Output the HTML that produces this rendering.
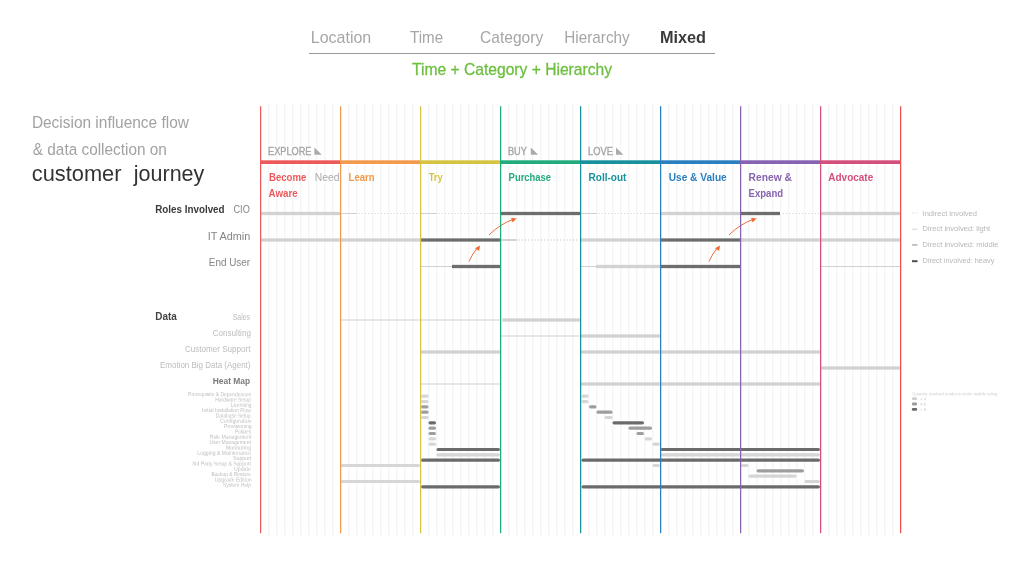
<!DOCTYPE html><html><head><meta charset="utf-8"><title>Customer journey</title><style>html,body{margin:0;padding:0;background:#fff;overflow:hidden}svg{display:block;will-change:transform;}text{font-family:"Liberation Sans", "DejaVu Sans", sans-serif;}</style></head><body>
<svg width="1024" height="576" viewBox="0 0 1024 576">
<rect width="1024" height="576" fill="#fff"/>
<rect x="268.1" y="104" width="1.3" height="431.3" fill="#f4f4f4"/><rect x="276.1" y="104" width="1.3" height="431.3" fill="#f4f4f4"/><rect x="284.1" y="104" width="1.3" height="431.3" fill="#f4f4f4"/><rect x="292.1" y="104" width="1.3" height="431.3" fill="#f4f4f4"/><rect x="300.1" y="104" width="1.3" height="431.3" fill="#f4f4f4"/><rect x="308.1" y="104" width="1.3" height="431.3" fill="#f4f4f4"/><rect x="316.1" y="104" width="1.3" height="431.3" fill="#f4f4f4"/><rect x="324.1" y="104" width="1.3" height="431.3" fill="#f4f4f4"/><rect x="332.1" y="104" width="1.3" height="431.3" fill="#f4f4f4"/><rect x="348.1" y="104" width="1.3" height="431.3" fill="#f4f4f4"/><rect x="356.1" y="104" width="1.3" height="431.3" fill="#f4f4f4"/><rect x="364.1" y="104" width="1.3" height="431.3" fill="#f4f4f4"/><rect x="372.1" y="104" width="1.3" height="431.3" fill="#f4f4f4"/><rect x="380.1" y="104" width="1.3" height="431.3" fill="#f4f4f4"/><rect x="388.1" y="104" width="1.3" height="431.3" fill="#f4f4f4"/><rect x="396.1" y="104" width="1.3" height="431.3" fill="#f4f4f4"/><rect x="404.1" y="104" width="1.3" height="431.3" fill="#f4f4f4"/><rect x="412.1" y="104" width="1.3" height="431.3" fill="#f4f4f4"/><rect x="428.1" y="104" width="1.3" height="431.3" fill="#f4f4f4"/><rect x="436.1" y="104" width="1.3" height="431.3" fill="#f4f4f4"/><rect x="444.1" y="104" width="1.3" height="431.3" fill="#f4f4f4"/><rect x="452.1" y="104" width="1.3" height="431.3" fill="#f4f4f4"/><rect x="460.1" y="104" width="1.3" height="431.3" fill="#f4f4f4"/><rect x="468.1" y="104" width="1.3" height="431.3" fill="#f4f4f4"/><rect x="476.1" y="104" width="1.3" height="431.3" fill="#f4f4f4"/><rect x="484.1" y="104" width="1.3" height="431.3" fill="#f4f4f4"/><rect x="492.1" y="104" width="1.3" height="431.3" fill="#f4f4f4"/><rect x="508.1" y="104" width="1.3" height="431.3" fill="#f4f4f4"/><rect x="516.1" y="104" width="1.3" height="431.3" fill="#f4f4f4"/><rect x="524.1" y="104" width="1.3" height="431.3" fill="#f4f4f4"/><rect x="532.1" y="104" width="1.3" height="431.3" fill="#f4f4f4"/><rect x="540.1" y="104" width="1.3" height="431.3" fill="#f4f4f4"/><rect x="548.1" y="104" width="1.3" height="431.3" fill="#f4f4f4"/><rect x="556.1" y="104" width="1.3" height="431.3" fill="#f4f4f4"/><rect x="564.1" y="104" width="1.3" height="431.3" fill="#f4f4f4"/><rect x="572.1" y="104" width="1.3" height="431.3" fill="#f4f4f4"/><rect x="588.1" y="104" width="1.3" height="431.3" fill="#f4f4f4"/><rect x="596.1" y="104" width="1.3" height="431.3" fill="#f4f4f4"/><rect x="604.1" y="104" width="1.3" height="431.3" fill="#f4f4f4"/><rect x="612.1" y="104" width="1.3" height="431.3" fill="#f4f4f4"/><rect x="620.1" y="104" width="1.3" height="431.3" fill="#f4f4f4"/><rect x="628.1" y="104" width="1.3" height="431.3" fill="#f4f4f4"/><rect x="636.1" y="104" width="1.3" height="431.3" fill="#f4f4f4"/><rect x="644.1" y="104" width="1.3" height="431.3" fill="#f4f4f4"/><rect x="652.1" y="104" width="1.3" height="431.3" fill="#f4f4f4"/><rect x="668.1" y="104" width="1.3" height="431.3" fill="#f4f4f4"/><rect x="676.1" y="104" width="1.3" height="431.3" fill="#f4f4f4"/><rect x="684.1" y="104" width="1.3" height="431.3" fill="#f4f4f4"/><rect x="692.1" y="104" width="1.3" height="431.3" fill="#f4f4f4"/><rect x="700.1" y="104" width="1.3" height="431.3" fill="#f4f4f4"/><rect x="708.1" y="104" width="1.3" height="431.3" fill="#f4f4f4"/><rect x="716.1" y="104" width="1.3" height="431.3" fill="#f4f4f4"/><rect x="724.1" y="104" width="1.3" height="431.3" fill="#f4f4f4"/><rect x="732.1" y="104" width="1.3" height="431.3" fill="#f4f4f4"/><rect x="748.1" y="104" width="1.3" height="431.3" fill="#f4f4f4"/><rect x="756.1" y="104" width="1.3" height="431.3" fill="#f4f4f4"/><rect x="764.1" y="104" width="1.3" height="431.3" fill="#f4f4f4"/><rect x="772.1" y="104" width="1.3" height="431.3" fill="#f4f4f4"/><rect x="780.1" y="104" width="1.3" height="431.3" fill="#f4f4f4"/><rect x="788.1" y="104" width="1.3" height="431.3" fill="#f4f4f4"/><rect x="796.1" y="104" width="1.3" height="431.3" fill="#f4f4f4"/><rect x="804.1" y="104" width="1.3" height="431.3" fill="#f4f4f4"/><rect x="812.1" y="104" width="1.3" height="431.3" fill="#f4f4f4"/><rect x="828.1" y="104" width="1.3" height="431.3" fill="#f4f4f4"/><rect x="836.1" y="104" width="1.3" height="431.3" fill="#f4f4f4"/><rect x="844.1" y="104" width="1.3" height="431.3" fill="#f4f4f4"/><rect x="852.1" y="104" width="1.3" height="431.3" fill="#f4f4f4"/><rect x="860.1" y="104" width="1.3" height="431.3" fill="#f4f4f4"/><rect x="868.1" y="104" width="1.3" height="431.3" fill="#f4f4f4"/><rect x="876.1" y="104" width="1.3" height="431.3" fill="#f4f4f4"/><rect x="884.1" y="104" width="1.3" height="431.3" fill="#f4f4f4"/><rect x="892.1" y="104" width="1.3" height="431.3" fill="#f4f4f4"/>
<rect x="260" y="160.3" width="80" height="3.7" fill="#ee5a5c"/>
<rect x="340" y="160.3" width="80" height="3.7" fill="#f39a4c"/>
<rect x="420" y="160.3" width="80" height="3.7" fill="#d6c344"/>
<rect x="500" y="160.3" width="80" height="3.7" fill="#22ab7c"/>
<rect x="580" y="160.3" width="80" height="3.7" fill="#17919e"/>
<rect x="660" y="160.3" width="80" height="3.7" fill="#2a7fc0"/>
<rect x="740" y="160.3" width="80" height="3.7" fill="#8762b0"/>
<rect x="820" y="160.3" width="80" height="3.7" fill="#d44f7c"/>
<rect x="309" y="53" width="406" height="1" fill="#999"/>
<text x="310.76" y="42.70" font-size="17" font-weight="normal" fill="#a6a6a6" textLength="60.51" lengthAdjust="spacingAndGlyphs">Location</text>
<text x="410.00" y="42.70" font-size="17" font-weight="normal" fill="#a6a6a6" textLength="33.14" lengthAdjust="spacingAndGlyphs">Time</text>
<text x="480.09" y="42.70" font-size="17" font-weight="normal" fill="#a6a6a6" textLength="63.10" lengthAdjust="spacingAndGlyphs">Category</text>
<text x="564.30" y="42.70" font-size="17" font-weight="normal" fill="#a6a6a6" textLength="65.47" lengthAdjust="spacingAndGlyphs">Hierarchy</text>
<text x="659.94" y="42.70" font-size="17" font-weight="bold" fill="#3a3a3a" textLength="46.09" lengthAdjust="spacingAndGlyphs">Mixed</text>
<text x="412.00" y="75.10" font-size="16.6" font-weight="normal" fill="#6cbf3f" stroke="#6cbf3f" stroke-width="0.3" textLength="200.00" lengthAdjust="spacingAndGlyphs">Time + Category + Hierarchy</text>
<text x="31.88" y="128.20" font-size="16.8" font-weight="normal" fill="#a2a2a2" textLength="157.05" lengthAdjust="spacingAndGlyphs">Decision influence flow</text>
<text x="32.80" y="154.70" font-size="16.8" font-weight="normal" fill="#a2a2a2" textLength="134.03" lengthAdjust="spacingAndGlyphs">&amp; data collection on</text>
<text x="31.81" y="181.00" font-size="22" font-weight="normal" fill="#333" textLength="89.68" lengthAdjust="spacingAndGlyphs">customer</text>
<text x="133.78" y="181.00" font-size="22" font-weight="normal" fill="#333" textLength="70.57" lengthAdjust="spacingAndGlyphs">journey</text>
<text x="268.08" y="155.10" font-size="10" font-weight="normal" fill="#a5a5a5" stroke="#a5a5a5" stroke-width="0.35" textLength="43.40" lengthAdjust="spacingAndGlyphs">EXPLORE</text>
<text x="507.98" y="155.10" font-size="10" font-weight="normal" fill="#a5a5a5" stroke="#a5a5a5" stroke-width="0.35" textLength="18.92" lengthAdjust="spacingAndGlyphs">BUY</text>
<text x="587.97" y="155.10" font-size="10" font-weight="normal" fill="#a5a5a5" stroke="#a5a5a5" stroke-width="0.35" textLength="24.94" lengthAdjust="spacingAndGlyphs">LOVE</text>
<text x="269.00" y="180.80" font-size="10" font-weight="bold" fill="#ee5a5c" textLength="37.31" lengthAdjust="spacingAndGlyphs">Become</text>
<text x="314.87" y="180.80" font-size="10" font-weight="normal" fill="#aaa" textLength="24.74" lengthAdjust="spacingAndGlyphs">Need</text>
<text x="268.60" y="196.70" font-size="10" font-weight="bold" fill="#ee5a5c" textLength="29.15" lengthAdjust="spacingAndGlyphs">Aware</text>
<text x="348.60" y="180.80" font-size="10" font-weight="bold" fill="#f39a4c" textLength="26.02" lengthAdjust="spacingAndGlyphs">Learn</text>
<text x="428.70" y="180.80" font-size="10" font-weight="bold" fill="#d6c344" textLength="14.01" lengthAdjust="spacingAndGlyphs">Try</text>
<text x="508.60" y="180.80" font-size="10" font-weight="bold" fill="#22ab7c" textLength="42.43" lengthAdjust="spacingAndGlyphs">Purchase</text>
<text x="588.60" y="180.80" font-size="10" font-weight="bold" fill="#17919e" textLength="37.77" lengthAdjust="spacingAndGlyphs">Roll-out</text>
<text x="668.70" y="180.80" font-size="10" font-weight="bold" fill="#2a7fc0" textLength="58.07" lengthAdjust="spacingAndGlyphs">Use &amp; Value</text>
<text x="748.60" y="180.80" font-size="10" font-weight="bold" fill="#8762b0" textLength="43.24" lengthAdjust="spacingAndGlyphs">Renew &amp;</text>
<text x="748.60" y="196.70" font-size="10" font-weight="bold" fill="#8762b0" textLength="34.52" lengthAdjust="spacingAndGlyphs">Expand</text>
<text x="828.30" y="180.80" font-size="10" font-weight="bold" fill="#d44f7c" textLength="44.92" lengthAdjust="spacingAndGlyphs">Advocate</text>
<text x="155.25" y="213.10" font-size="10" font-weight="bold" fill="#3a3a3a" textLength="69.32" lengthAdjust="spacingAndGlyphs">Roles Involved</text>
<text x="233.50" y="213.10" font-size="10" font-weight="normal" fill="#858585" textLength="16.30" lengthAdjust="spacingAndGlyphs">CIO</text>
<text x="207.66" y="240.00" font-size="10" font-weight="normal" fill="#858585" textLength="42.64" lengthAdjust="spacingAndGlyphs">IT Admin</text>
<text x="208.76" y="266.25" font-size="10" font-weight="normal" fill="#858585" textLength="41.43" lengthAdjust="spacingAndGlyphs">End User</text>
<text x="155.20" y="319.80" font-size="10.5" font-weight="bold" fill="#444" textLength="21.58" lengthAdjust="spacingAndGlyphs">Data</text>
<text x="232.70" y="319.80" font-size="9" font-weight="normal" fill="#bcbcbc" textLength="17.33" lengthAdjust="spacingAndGlyphs">Sales</text>
<text x="212.80" y="336.00" font-size="9" font-weight="normal" fill="#bcbcbc" textLength="38.08" lengthAdjust="spacingAndGlyphs">Consulting</text>
<text x="185.00" y="352.00" font-size="9" font-weight="normal" fill="#bcbcbc" textLength="65.44" lengthAdjust="spacingAndGlyphs">Customer Support</text>
<text x="160.00" y="367.80" font-size="9" font-weight="normal" fill="#bcbcbc" textLength="90.46" lengthAdjust="spacingAndGlyphs">Emotion Big Data (Agent)</text>
<text x="212.80" y="384.00" font-size="8.5" font-weight="bold" fill="#7a7a7a" textLength="37.40" lengthAdjust="spacingAndGlyphs">Heat Map</text>
<text x="922.60" y="215.70" font-size="7.5" font-weight="normal" fill="#b8b8b8" textLength="54.40" lengthAdjust="spacingAndGlyphs">Indirect involved</text>
<text x="922.60" y="231.40" font-size="7.5" font-weight="normal" fill="#b8b8b8" textLength="67.53" lengthAdjust="spacingAndGlyphs">Direct involved: light</text>
<text x="922.60" y="247.10" font-size="7.5" font-weight="normal" fill="#b8b8b8" textLength="75.86" lengthAdjust="spacingAndGlyphs">Direct involved: middle</text>
<text x="922.60" y="263.10" font-size="7.5" font-weight="normal" fill="#b8b8b8" textLength="71.77" lengthAdjust="spacingAndGlyphs">Direct involved: heavy</text>
<text transform="translate(188.10 396.10) rotate(0.05) scale(0.25)" font-size="23.2" font-weight="normal" fill="#bdbdbd" textLength="251.31" lengthAdjust="spacingAndGlyphs">Prerequisite &amp; Dependences</text>
<text transform="translate(215.20 401.43) rotate(0.05) scale(0.25)" font-size="23.2" font-weight="normal" fill="#bdbdbd" textLength="143.23" lengthAdjust="spacingAndGlyphs">Hardware Setup</text>
<text transform="translate(230.70 406.76) rotate(0.05) scale(0.25)" font-size="23.2" font-weight="normal" fill="#bdbdbd" textLength="83.30" lengthAdjust="spacingAndGlyphs">Licensing</text>
<text transform="translate(202.00 412.09) rotate(0.05) scale(0.25)" font-size="23.2" font-weight="normal" fill="#bdbdbd" textLength="195.43" lengthAdjust="spacingAndGlyphs">Initial Installation Flow</text>
<text transform="translate(215.80 417.42) rotate(0.05) scale(0.25)" font-size="23.2" font-weight="normal" fill="#bdbdbd" textLength="139.78" lengthAdjust="spacingAndGlyphs">Database Setup</text>
<text transform="translate(220.00 422.75) rotate(0.05) scale(0.25)" font-size="23.2" font-weight="normal" fill="#bdbdbd" textLength="126.17" lengthAdjust="spacingAndGlyphs">Configuration</text>
<text transform="translate(224.00 428.08) rotate(0.05) scale(0.25)" font-size="23.2" font-weight="normal" fill="#bdbdbd" textLength="110.42" lengthAdjust="spacingAndGlyphs">Provisioning</text>
<text transform="translate(234.90 433.41) rotate(0.05) scale(0.25)" font-size="23.2" font-weight="normal" fill="#bdbdbd" textLength="64.75" lengthAdjust="spacingAndGlyphs">Policies</text>
<text transform="translate(209.70 438.74) rotate(0.05) scale(0.25)" font-size="23.2" font-weight="normal" fill="#bdbdbd" textLength="166.92" lengthAdjust="spacingAndGlyphs">Role Management</text>
<text transform="translate(209.50 444.07) rotate(0.05) scale(0.25)" font-size="23.2" font-weight="normal" fill="#bdbdbd" textLength="165.32" lengthAdjust="spacingAndGlyphs">User Management</text>
<text transform="translate(225.70 449.40) rotate(0.05) scale(0.25)" font-size="23.2" font-weight="normal" fill="#bdbdbd" textLength="101.89" lengthAdjust="spacingAndGlyphs">Monitoring</text>
<text transform="translate(197.30 454.73) rotate(0.05) scale(0.25)" font-size="23.2" font-weight="normal" fill="#bdbdbd" textLength="214.92" lengthAdjust="spacingAndGlyphs">Logging &amp; Maintenance</text>
<text transform="translate(233.00 460.06) rotate(0.05) scale(0.25)" font-size="23.2" font-weight="normal" fill="#bdbdbd" textLength="73.53" lengthAdjust="spacingAndGlyphs">Support</text>
<text transform="translate(192.00 465.39) rotate(0.05) scale(0.25)" font-size="23.2" font-weight="normal" fill="#bdbdbd" textLength="235.26" lengthAdjust="spacingAndGlyphs">3rd Party Setup &amp; Support</text>
<text transform="translate(234.00 470.72) rotate(0.05) scale(0.25)" font-size="23.2" font-weight="normal" fill="#bdbdbd" textLength="67.33" lengthAdjust="spacingAndGlyphs">Update</text>
<text transform="translate(211.60 476.05) rotate(0.05) scale(0.25)" font-size="23.2" font-weight="normal" fill="#bdbdbd" textLength="157.11" lengthAdjust="spacingAndGlyphs">Backup &amp; Restore</text>
<text transform="translate(214.80 481.38) rotate(0.05) scale(0.25)" font-size="23.2" font-weight="normal" fill="#bdbdbd" textLength="147.25" lengthAdjust="spacingAndGlyphs">Upgrade Edition</text>
<text transform="translate(223.00 486.71) rotate(0.05) scale(0.25)" font-size="23.2" font-weight="normal" fill="#bdbdbd" textLength="111.97" lengthAdjust="spacingAndGlyphs">System Help</text>
<path d="M314.4 147.5L314.4 154.7L321.79999999999995 154.7Z" fill="#ababab"/><path d="M530.8 147.5L530.8 154.7L538.1999999999999 154.7Z" fill="#ababab"/><path d="M616 147.5L616 154.7L623.4 154.7Z" fill="#ababab"/>
<rect x="261" y="211.85" width="79" height="3.3" fill="#d2d2d2"/><rect x="341" y="213.0" width="16" height="1" fill="#d0d0d0"/><line x1="358.5" y1="213.5" x2="419.5" y2="213.5" stroke="#d2d2d2" stroke-width="1" stroke-dasharray="1 2.2"/><rect x="421" y="213.0" width="16" height="1" fill="#d0d0d0"/><line x1="438.5" y1="213.5" x2="482.5" y2="213.5" stroke="#d2d2d2" stroke-width="1" stroke-dasharray="1 2.2"/><rect x="484" y="213.0" width="16" height="1" fill="#e6e6e6"/><rect x="501" y="211.85" width="79" height="3.3" fill="#6d6d6d"/><rect x="581" y="213.0" width="16" height="1" fill="#d0d0d0"/><line x1="598.5" y1="213.5" x2="642.5" y2="213.5" stroke="#d2d2d2" stroke-width="1" stroke-dasharray="1 2.2"/><rect x="644" y="213.0" width="16" height="1" fill="#e6e6e6"/><rect x="661" y="211.85" width="79" height="3.3" fill="#d2d2d2"/><rect x="741" y="211.85" width="39" height="3.3" fill="#6d6d6d"/><line x1="783" y1="213.5" x2="820" y2="213.5" stroke="#cfcfcf" stroke-width="1" stroke-dasharray="1 2.2"/><rect x="821" y="211.85" width="79" height="3.3" fill="#d2d2d2"/><rect x="261" y="238.35" width="159" height="3.3" fill="#d2d2d2"/><rect x="421" y="238.35" width="79" height="3.3" fill="#6d6d6d"/><rect x="501" y="239.1" width="16" height="1.7990000000000002" fill="#d0d0d0"/><line x1="518.5" y1="240" x2="579.5" y2="240" stroke="#dcdcdc" stroke-width="1.8" stroke-dasharray="1 2.2"/><rect x="581" y="238.35" width="79" height="3.3" fill="#d2d2d2"/><rect x="661" y="238.35" width="79" height="3.3" fill="#6d6d6d"/><rect x="741" y="238.35" width="159" height="3.3" fill="#d2d2d2"/><rect x="421" y="266.0" width="31" height="1" fill="#d0d0d0"/><rect x="452" y="264.85" width="48" height="3.3" fill="#6d6d6d"/><rect x="581" y="266.0" width="15" height="1" fill="#d0d0d0"/><rect x="596" y="264.85" width="64" height="3.3" fill="#d2d2d2"/><rect x="661" y="264.85" width="79" height="3.3" fill="#6d6d6d"/><rect x="821" y="266.0" width="79" height="1" fill="#d0d0d0"/>
<path d="M469 261.5 Q472.5 253.5 477.5 247.5" fill="none" stroke="#f26a35" stroke-width="1"/>
<path d="M489 235 Q500 224 514 219" fill="none" stroke="#f26a35" stroke-width="1"/>
<path d="M709 261.5 Q712.5 253.5 717.5 247.5" fill="none" stroke="#f26a35" stroke-width="1"/>
<path d="M729 235 Q740 224 754 219" fill="none" stroke="#f26a35" stroke-width="1"/>
<path d="M480.00 245.50L479.18 251.03L475.08 248.16Z" fill="#f26a35"/>
<path d="M516.50 218.50L512.66 222.56L510.95 217.86Z" fill="#f26a35"/>
<path d="M720.00 245.50L719.18 251.03L715.08 248.16Z" fill="#f26a35"/>
<path d="M756.50 218.50L752.66 222.56L750.95 217.86Z" fill="#f26a35"/>
<line x1="912" y1="213.1" x2="918" y2="213.1" stroke="#dcdcdc" stroke-width="1" stroke-dasharray="1 1.2"/>
<rect x="912" y="228.7" width="5.5" height="1" fill="#d6d6d6"/>
<rect x="912" y="244.2" width="5.5" height="1.5" fill="#b3b3b3"/>
<rect x="912" y="260.2" width="5.5" height="2" fill="#4e4e4e"/>
<rect x="341" y="319.5" width="159" height="1" fill="#d0d0d0"/><rect x="502.5" y="318.35" width="77.5" height="3.3" fill="#d2d2d2"/><rect x="501" y="335.5" width="79" height="1" fill="#d0d0d0"/><rect x="581" y="334.35" width="79" height="3.3" fill="#d2d2d2"/><rect x="421" y="350.35" width="79" height="3.3" fill="#d2d2d2"/><rect x="581" y="350.35" width="239" height="3.3" fill="#d2d2d2"/><rect x="821" y="366.35" width="79" height="3.3" fill="#d2d2d2"/><rect x="421" y="383.5" width="79" height="1" fill="#d0d0d0"/><rect x="581" y="382.35" width="239" height="3.3" fill="#d2d2d2"/>
<rect x="421" y="394.60" width="7.5" height="3.2" rx="1.6" fill="#d6d6d6"/><rect x="581.5" y="394.60" width="7.0" height="3.2" rx="1.6" fill="#d6d6d6"/><rect x="421" y="399.93" width="7.5" height="3.2" rx="1.6" fill="#d6d6d6"/><rect x="581.5" y="399.93" width="7.0" height="3.2" rx="1.6" fill="#d6d6d6"/><rect x="421" y="405.26" width="7.5" height="3.2" rx="1.6" fill="#9e9e9e"/><rect x="589" y="405.26" width="7.5" height="3.2" rx="1.6" fill="#9e9e9e"/><rect x="421" y="410.59" width="7.5" height="3.2" rx="1.6" fill="#9e9e9e"/><rect x="596.5" y="410.59" width="16.0" height="3.2" rx="1.6" fill="#9e9e9e"/><rect x="421" y="415.92" width="7.5" height="3.2" rx="1.6" fill="#d6d6d6"/><rect x="604.5" y="415.92" width="8.0" height="3.2" rx="1.6" fill="#d6d6d6"/><rect x="428.5" y="421.25" width="7.5" height="3.2" rx="1.6" fill="#6b6b6b"/><rect x="612.5" y="421.25" width="31.5" height="3.2" rx="1.6" fill="#6b6b6b"/><rect x="428.5" y="426.58" width="7.5" height="3.2" rx="1.6" fill="#9e9e9e"/><rect x="628.5" y="426.58" width="23.5" height="3.2" rx="1.6" fill="#9e9e9e"/><rect x="428.5" y="431.91" width="7.5" height="3.2" rx="1.6" fill="#9e9e9e"/><rect x="636.5" y="431.91" width="7.5" height="3.2" rx="1.6" fill="#9e9e9e"/><rect x="428.5" y="437.24" width="7.5" height="3.2" rx="1.6" fill="#d6d6d6"/><rect x="644.5" y="437.24" width="7.5" height="3.2" rx="1.6" fill="#d6d6d6"/><rect x="428.5" y="442.57" width="7.5" height="3.2" rx="1.6" fill="#d6d6d6"/><rect x="652.5" y="442.57" width="7.5" height="3.2" rx="1.6" fill="#d6d6d6"/><rect x="436.5" y="447.90" width="63.5" height="3.2" rx="1.6" fill="#6b6b6b"/><rect x="660.5" y="447.90" width="159.5" height="3.2" rx="1.6" fill="#6b6b6b"/><rect x="436.5" y="453.23" width="63.5" height="3.2" rx="1.6" fill="#d6d6d6"/><rect x="660.5" y="453.23" width="159.5" height="3.2" rx="1.6" fill="#d6d6d6"/><rect x="421" y="458.56" width="79" height="3.2" rx="1.6" fill="#6b6b6b"/><rect x="581.5" y="458.56" width="238.5" height="3.2" rx="1.6" fill="#6b6b6b"/><rect x="340.5" y="463.89" width="79.5" height="3.2" rx="1.6" fill="#d6d6d6"/><rect x="652.5" y="463.89" width="7.5" height="3.2" rx="1.6" fill="#d6d6d6"/><rect x="741" y="463.89" width="7.5" height="3.2" rx="1.6" fill="#d6d6d6"/><rect x="756.5" y="469.22" width="47.5" height="3.2" rx="1.6" fill="#9e9e9e"/><rect x="748.5" y="474.55" width="48.0" height="3.2" rx="1.6" fill="#d6d6d6"/><rect x="340.5" y="479.88" width="79.5" height="3.2" rx="1.6" fill="#d6d6d6"/><rect x="804.5" y="479.88" width="15.5" height="3.2" rx="1.6" fill="#d6d6d6"/><rect x="421" y="485.21" width="79" height="3.2" rx="1.6" fill="#6b6b6b"/><rect x="581.5" y="485.21" width="238.5" height="3.2" rx="1.6" fill="#6b6b6b"/>
<rect x="260" y="106.2" width="1.25" height="427" fill="#ee5a5c"/>
<rect x="340" y="106.2" width="1.25" height="427" fill="#f39a4c"/>
<rect x="420" y="106.2" width="1.25" height="427" fill="#d6c344"/>
<rect x="500" y="106.2" width="1.25" height="427" fill="#22ab7c"/>
<rect x="580" y="106.2" width="1.25" height="427" fill="#17919e"/>
<rect x="660" y="106.2" width="1.25" height="427" fill="#2a7fc0"/>
<rect x="740" y="106.2" width="1.25" height="427" fill="#8762b0"/>
<rect x="820" y="106.2" width="1.25" height="427" fill="#d44f7c"/>
<rect x="900" y="106.2" width="1.25" height="427" fill="#ee5050"/>
<g fill="#cdcdcd"><text transform="translate(912.3 395.3) rotate(0.05) scale(0.25)" font-size="17" textLength="340" lengthAdjust="spacingAndGlyphs">Quantity involved products under middle rating</text><text transform="translate(920 400.4) rotate(0.05) scale(0.25)" font-size="17">&lt; 4</text><text transform="translate(920 405.7) rotate(0.05) scale(0.25)" font-size="17">4-5</text><text transform="translate(920 411) rotate(0.05) scale(0.25)" font-size="17">&gt; 6</text></g>
<rect x="911.8" y="397.3" width="5.4" height="2.8" rx="1.4" fill="#cfcfcf"/><rect x="911.8" y="402.6" width="5.4" height="2.8" rx="1.4" fill="#9c9c9c"/><rect x="911.8" y="408" width="5.4" height="2.8" rx="1.4" fill="#6a6a6a"/>
</svg></body></html>
